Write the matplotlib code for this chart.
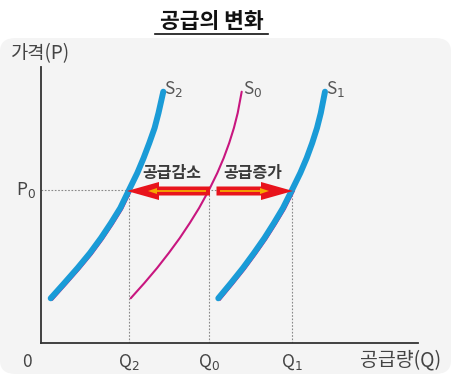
import matplotlib
matplotlib.use("Agg")
import matplotlib.pyplot as plt
from matplotlib.patches import FancyBboxPatch
from matplotlib.lines import Line2D

plt.rcParams['font.family'] = ['Noto Sans CJK KR', 'DejaVu Sans']

# ---- data ----
curve_p = [44.7, 60, 75, 90, 105, 120, 135, 153, 170, 185, 200, 215, 230, 251.3]
s0_q = [89.7, 103.4, 116.1, 127.8, 138.8, 148.8, 158.1, 168, 176.3, 182.7, 188.2, 192.9, 196.7, 200.7]
s2_q = [9.7, 23.4, 36.6, 49, 60, 70, 79.3, 88, 96.3, 102.6, 108.3, 113.6, 117.5, 122.3]
s1_q = [177.3, 190, 202, 213, 223.5, 233, 242, 251, 259.3, 265.7, 271.2, 276, 279.8, 284]

p0 = 153
q_ticks = [88, 168, 251]
q_labels = ['Q$_2$', 'Q$_0$', 'Q$_1$']
curve_labels = ['S$_2$', 'S$_0$', 'S$_1$']
arrow_texts = ['공급감소', '공급증가']

W, H = 453, 381
fig = plt.figure(figsize=(W / 100, H / 100), dpi=100)
fig.patch.set_facecolor('white')

# background panel
panel = FancyBboxPatch((0 / W, (H - 374) / H), 451 / W, (374 - 38) / H,
                       boxstyle="round,pad=0,rounding_size=0.035",
                       transform=fig.transFigure, facecolor='#f4f4f4',
                       edgecolor='none', zorder=-5)
fig.add_artist(panel)

# title with underline
fig.text(211.5 / W, 1 - 21.5 / H, '공급의 변화', ha='center', va='center',
         fontsize=15.5, fontweight='bold', color='#111111')
fig.add_artist(Line2D([155 / W, 268 / W], [1 - 34 / H, 1 - 34 / H],
                      transform=fig.transFigure, color='#111111', lw=1.2))

ax = fig.add_axes([41 / W, (H - 343) / H, 377 / W, (343 - 67) / H])
ax.set_zorder(2)
ax.set_xlim(0, 377)
ax.set_ylim(0, 276)
ax.set_facecolor('none')
ax.patch.set_alpha(0)
for s in ['top', 'right']:
    ax.spines[s].set_visible(False)
for s in ['left', 'bottom']:
    ax.spines[s].set_color('#333333')
    ax.spines[s].set_linewidth(1.3)
ax.set_xticks([])
ax.set_yticks([])

# guide lines
ax.plot([0, q_ticks[2]], [p0, p0], ls=(0, (1.5, 1.5)), color='#888888', lw=0.8)
for q in q_ticks:
    ax.plot([q, q], [0, p0], ls=(0, (1.5, 1.5)), color='#888888', lw=0.8)

# curves
magenta = '#c8167f'
blue = '#1a9bd7'
ax.plot(s0_q, curve_p, color=magenta, lw=1.5, solid_capstyle='round', zorder=3)
n_sh = 8
ax.plot([q + 1.8 for q in s2_q[:n_sh]], [p - 1.2 for p in curve_p[:n_sh]],
        color=magenta, lw=1.5, zorder=3)
ax.plot([q + 1.8 for q in s1_q[:n_sh]], [p - 1.2 for p in curve_p[:n_sh]],
        color=magenta, lw=1.5, zorder=3)
for sq in (s2_q, s1_q):
    ax.plot(sq, curve_p, color=blue, lw=4.3, solid_capstyle='round',
            solid_joinstyle='round', zorder=4)

# arrows
red = '#e8141c'
yellow = '#f6a800'
ay = 152
ax.arrow(169, ay, q_ticks[0] - 2 - 169, 0, width=9, head_width=18, head_length=32,
         length_includes_head=True, color=red, zorder=5, lw=0)
ax.arrow(175.5, ay, q_ticks[2] + 1 - 175.5, 0, width=9, head_width=18, head_length=32,
         length_includes_head=True, color=red, zorder=5, lw=0)
ax.arrow(165, ay, 107 - 165, 0, width=1.8, head_width=6, head_length=9,
         length_includes_head=True, color=yellow, zorder=6, lw=0)
ax.arrow(179, ay, 228 - 179, 0, width=1.8, head_width=6, head_length=9,
         length_includes_head=True, color=yellow, zorder=6, lw=0)

ax.text(130.5, 170, arrow_texts[0], ha='center', va='center', fontsize=11.5,
        fontweight='bold', color='#3a3a3a', zorder=7)
ax.text(212, 170, arrow_texts[1], ha='center', va='center', fontsize=11.5,
        fontweight='bold', color='#3a3a3a', zorder=7)

# curve labels
lbl_x = [s2_q[-1] + 1, s0_q[-1] + 1, s1_q[-1] + 1]
for x, t in zip(lbl_x, curve_labels):
    ax.text(x, 254, t, ha='left', va='center', fontsize=12.5, color='#555555')

# axis labels
txtc = '#444444'
for q, t in zip(q_ticks, q_labels):
    ax.text(q, -19, t, ha='center', va='center', fontsize=12.5, color=txtc,
            clip_on=False)
ax.text(-14, -19, '0', ha='center', va='center', fontsize=12.5, color=txtc,
        clip_on=False)
ax.text(-5, p0, 'P$_0$', ha='right', va='center', fontsize=12.5, color=txtc,
        clip_on=False)
ax.text(-30, 289, '가격(P)', ha='left', va='center', fontsize=13.5, color=txtc,
        clip_on=False)
ax.text(400, -17, '공급량(Q)', ha='right', va='center', fontsize=14, color=txtc,
        clip_on=False)

fig.savefig('out.png', dpi=100, facecolor='white')
